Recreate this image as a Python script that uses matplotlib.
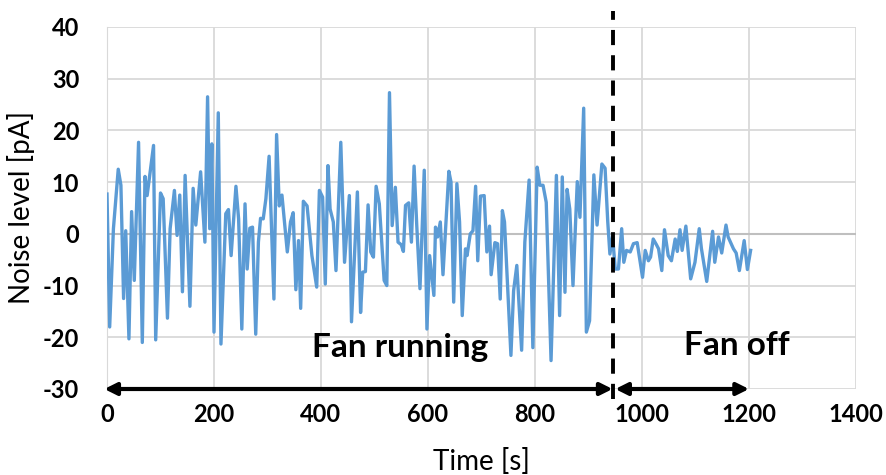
import matplotlib
matplotlib.use("Agg")
import matplotlib.pyplot as plt

plt.rcParams['font.family'] = ['Lato', 'DejaVu Sans']
plt.rcParams['axes.unicode_minus'] = False

# measured noise trace (time in s, current in pA)
time_s = [0, 5, 12, 21, 26, 31, 35, 41, 46, 51, 59, 66, 71, 75, 87, 91, 100, 105, 113, 118,
          126, 131, 136, 141, 146, 155, 161, 166, 175, 183, 188, 192, 196, 200, 208, 213, 222, 227, 232, 241,
          246, 252, 258, 262, 267, 272, 278, 283, 287, 292, 297, 303, 312, 317, 322, 327, 337, 343, 348, 353,
          358, 362, 367, 374, 383, 392, 397, 403, 408, 413, 417, 423, 428, 437, 444, 453, 457, 468, 474, 478,
          483, 488, 493, 498, 503, 509, 518, 523, 528, 533, 539, 544, 550, 554, 558, 564, 569, 574, 579, 585,
          593, 598, 603, 611, 614, 618, 623, 628, 639, 643, 648, 654, 659, 664, 670, 673, 679, 684, 689, 693,
          698, 705, 710, 715, 718, 725, 730, 735, 739, 743, 755, 760, 766, 775, 781, 789, 796, 804, 809, 815,
          821, 830, 840, 846, 851, 856, 860, 865, 871, 879, 884, 891, 896, 902, 910, 916, 925, 931, 936, 940,
          945, 950, 956, 962, 966, 971, 978, 984, 991, 1001, 1006, 1012, 1016, 1021, 1027, 1031, 1037, 1042, 1049, 1055,
          1062, 1066, 1071, 1075, 1082, 1091, 1099, 1107, 1111, 1121, 1132, 1136, 1143, 1149, 1157, 1161, 1171, 1176, 1182, 1191,
          1197, 1203]
noise_pA = [7.7, -18, 1, 12.5, 9.4, -12.5, 0.6, -20.3, 4.3, -9, 17.7, -21, 11.1, 7.4, 17.1, -20.5, 7.9, 6.8, -16.3, 1,
            8.4, -0.3, 7.5, -11.2, 11.3, -14, 8.8, 1.7, 12, -1.6, 26.5, 1, 17.4, -19, 23.4, -21.3, 3.9, 4.7, -4.2, 9.2,
            2.9, -18.4, 5.8, -6.8, 1.1, 1.3, -19.4, -1.6, 3, 2.9, 6.8, 15, -12.6, 19.2, 5.4, 7.5, -3.5, 2.3, 4.1, -10.8,
            -1.3, -14.4, 6.3, 5.4, -4.2, -10.3, 8.4, 7.1, -9.7, 13.2, 4.8, 2.3, -7.1, 17.7, -5.5, 7.4, -17, 8.1, -15.2, -7.4,
            -7.3, 5.6, -3.5, -4.5, 9.2, 5.8, -9, -10, 27.3, 1.6, 9, -1.6, -2.1, -3.4, 5.5, 6, -1.6, 13.1, 1.6, -10.6,
            12.3, -18.4, -4.2, -11.9, 1.3, -0.6, 2.3, -7.9, 12.1, 10, -13.2, 9.7, 2.3, -15.8, -2.9, -4.2, 0, 0.6, 9.2, -5.2,
            7.3, 7.4, -3.5, 1.5, -7.9, -1.7, -1.9, -12.6, 4.5, 2.3, -23.5, -11, -6.1, -22.5, -1.6, 10.4, -22, 12.9, 9.4, 9.4,
            6.1, -24.5, 11.3, -15.8, 11, -11.3, 8.6, 4.8, -10, 10.1, 3.2, 24.3, -19, -16.8, 11.4, 1.7, 13.5, 12.7, 2.3, -3.9,
            -0.5, -6.8, -6.8, 1, -5.5, -3.2, -3.5, -1.9, -1.7, -8.4, -3.2, -5.2, -4.5, -1, -2.1, -2.9, -7.1, 0.8, -4.2, -5.2,
            -1, -3.4, 0.8, -3.2, 1.5, -8.7, -5.5, 1, -2.8, -9.2, 0.5, -5.5, -0.6, -3.7, 1.7, -0.6, -2.9, -3.7, -7.1, -1.3,
            -6.9, -3.2]

fan_switch = 945     # fan turned off here
run_end = 1200
x_ticks = [0, 200, 400, 600, 800, 1000, 1200, 1400]
y_ticks = [-30, -20, -10, 0, 10, 20, 30, 40]

fig = plt.figure(figsize=(8.86, 4.75), dpi=100)
ax = fig.add_axes([107 / 886, 1 - 389 / 475, (856 - 107) / 886, (389 - 27) / 475])

ax.set_xlim(0, 1400)
ax.set_ylim(-30, 40)
ax.set_xticks(x_ticks)
ax.set_yticks(y_ticks)
ax.grid(True, color='#d9d9d9', lw=1.3)
ax.set_axisbelow(True)
ax.axhline(0, color='#bfbfbf', lw=1.5, zorder=1)
for s in ['top', 'right', 'bottom']:
    ax.spines[s].set_visible(False)
ax.spines['left'].set_color('#d9d9d9')
ax.tick_params(length=0, labelsize=17, pad=10)
ax.tick_params(axis='y', pad=20)
for lab in ax.get_xticklabels() + ax.get_yticklabels():
    lab.set_fontweight('bold')

ax.plot(time_s, noise_pA, color='#5b9bd5', lw=2.4, zorder=3)

# fan switch marker
ax.plot([fan_switch, fan_switch], [-32, 43], color='black', lw=2.8,
        dashes=(3.9, 2.6), clip_on=False, zorder=4)

# phase arrows along the bottom
arrow = dict(arrowstyle='<|-|>', color='black', lw=3, mutation_scale=18,
             shrinkA=0, shrinkB=0)
ax.annotate('', xy=(-5, -30), xytext=(fan_switch, -30), arrowprops=arrow,
            annotation_clip=False, zorder=5)
ax.annotate('', xy=(fan_switch + 5, -30), xytext=(run_end, -30), arrowprops=arrow,
            annotation_clip=False, zorder=5)

ax.text(548, -22, 'Fan running', fontsize=24, fontweight='bold', ha='center', va='center')
ax.text(1178, -21.5, 'Fan off', fontsize=24, fontweight='bold', ha='center', va='center')

ax.set_xlabel('Time [s]', fontsize=20, labelpad=16)
ax.set_ylabel('Noise level [pA]', fontsize=20, labelpad=6)

fig.savefig('out.png', dpi=100)
